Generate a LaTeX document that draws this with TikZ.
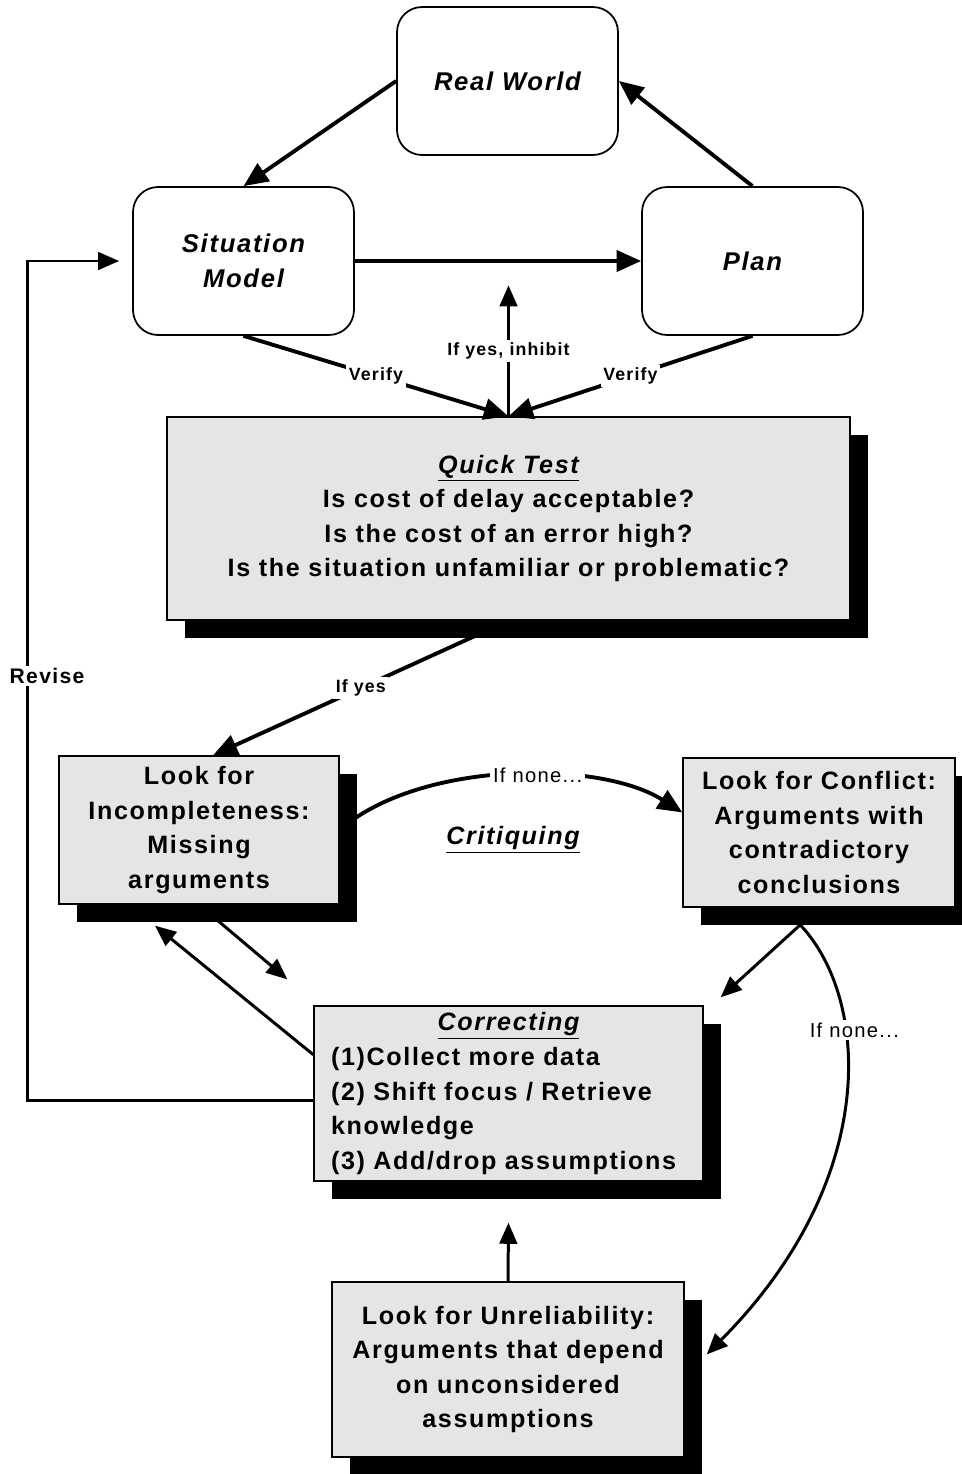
\documentclass[tikz,border=0pt]{standalone}
\usepackage{fontspec}
\setmainfont{Liberation Sans}[LetterSpace=6.5]
\usepackage{tikz}
\usetikzlibrary{arrows.meta}
\usetikzlibrary{shadows}
\usetikzlibrary{calc}
\definecolor{cardgray}{RGB}{229,229,229}

\begin{document}
\begin{tikzpicture}[x=0.02cm, y=-0.02cm, >={Triangle[length=14pt,width=12pt]},
  stage/.style={draw, rounded corners=0.5cm, line width=1pt, minimum width=4.42cm,
                minimum height=2.96cm, align=center,
                font=\fontsize{14.6}{20}\selectfont\bfseries\itshape},
  card/.style={draw, line width=0.8pt, fill=cardgray, align=center, inner sep=0pt,
               font=\fontsize{14.3}{19.7}\selectfont\bfseries,
               drop shadow={shadow xshift=0.36cm, shadow yshift=-0.36cm, fill=black, opacity=1}},
  tag/.style={fill=white, inner sep=1.5pt, font=\fontsize{10.1}{12}\selectfont\bfseries},
  note/.style={fill=white, inner sep=1.5pt, font=\fontsize{11.5}{13}\selectfont},
  heavy/.style={->, line width=2.2pt},
  light/.style={->, line width=1.7pt, >={Triangle[length=12pt,width=10pt]}}]

\useasboundingbox (0,0) rectangle (961,1474);

% cycle at the top
\node[stage] (RW) at (507.5,81) {Real World};
\node[stage] (SM) at (243.5,261) {Situation\\Model};
\node[stage] (PL) at (752.5,261) {Plan};

% boxes
\node[card, minimum width=13.66cm, minimum height=4.06cm] (QT) at (508.5,518.5)
  {\underline{\itshape Quick Test}\\Is cost of delay acceptable?\\Is the cost of an error high?\\Is the situation unfamiliar or problematic?};
\node[card, minimum width=5.6cm, minimum height=2.96cm] (INC) at (199,830)
  {Look for\\Incompleteness:\\Missing\\arguments};
\node[card, minimum width=5.44cm, minimum height=2.98cm] (CON) at (819,832.5)
  {Look for Conflict:\\Arguments with\\contradictory\\conclusions};
\node[card, minimum width=7.78cm, minimum height=3.5cm, text width=7.1cm, align=left] (COR) at (508.5,1093.5)
  {\makebox[\linewidth][c]{\underline{\itshape Correcting}}\\(1)Collect more data\\(2) Shift focus / Retrieve\\knowledge\\(3) Add/drop assumptions};
\node[card, minimum width=7.04cm, minimum height=3.5cm] (UNR) at (508,1369.5)
  {Look for Unreliability:\\Arguments that depend\\on unconsidered\\assumptions};

\node[font=\fontsize{14.3}{18}\selectfont\bfseries\itshape] (crit) at (513,840) {\underline{Critiquing}};

% connectors
\draw[heavy] (RW.west) -- (SM.north);
\draw[heavy] (PL.north) -- (RW.east);
\draw[heavy] (SM.east) -- (PL.west);
\draw[heavy] (SM.south) -- node[tag] {Verify} (QT.north);
\draw[heavy] (PL.south) -- node[tag] {Verify} (QT.north);
\coordinate (inhibit) at ($(QT.north)+(0,-131)$);
\draw[light] (QT.north) -- node[tag] {If yes, inhibit} (inhibit);

\draw[heavy] (QT.south) -- node[tag] {If yes} ($(INC.north)+(14,0)$);
\draw[heavy] (INC.east) .. controls (420,760) and (600,760) .. ($(CON.west)+(0,-20)$)
  node[note, pos=0.57] {If none...};

\coordinate (incin) at ($(INC.south)+(-44,21)$);
\coordinate (corin) at ($(COR.north west)+(-26,-26)$);
\coordinate (corne) at ($(COR.north east)+(17,-8)$);
\coordinate (corbelow) at ($(COR.south)+(0,41)$);
\draw[light] ($(COR.north west)!0.28!(COR.south west)$) -- (incin);
\draw[light] (INC.south) -- (corin);
\draw[light] (CON.south) -- (corne);
\draw[light] (UNR.north) -- (corbelow);
\draw[light] ($(CON.south)+(-18,18)$) .. controls (870,1000) and (880,1180) .. ($(UNR.east)+(22,-15)$)
  node[note, pos=0.33, xshift=5pt] {If none...};

% revise loop
\draw[light] ($(COR.west)+(0,6.5)$) -| ($(SM.west)+(-105,0)$) -- ($(SM.west)+(-13,0)$);
\node[tag, font=\fontsize{12}{14}\selectfont\bfseries] (rev) at (47,676) {Revise};
\end{tikzpicture}
\end{document}
